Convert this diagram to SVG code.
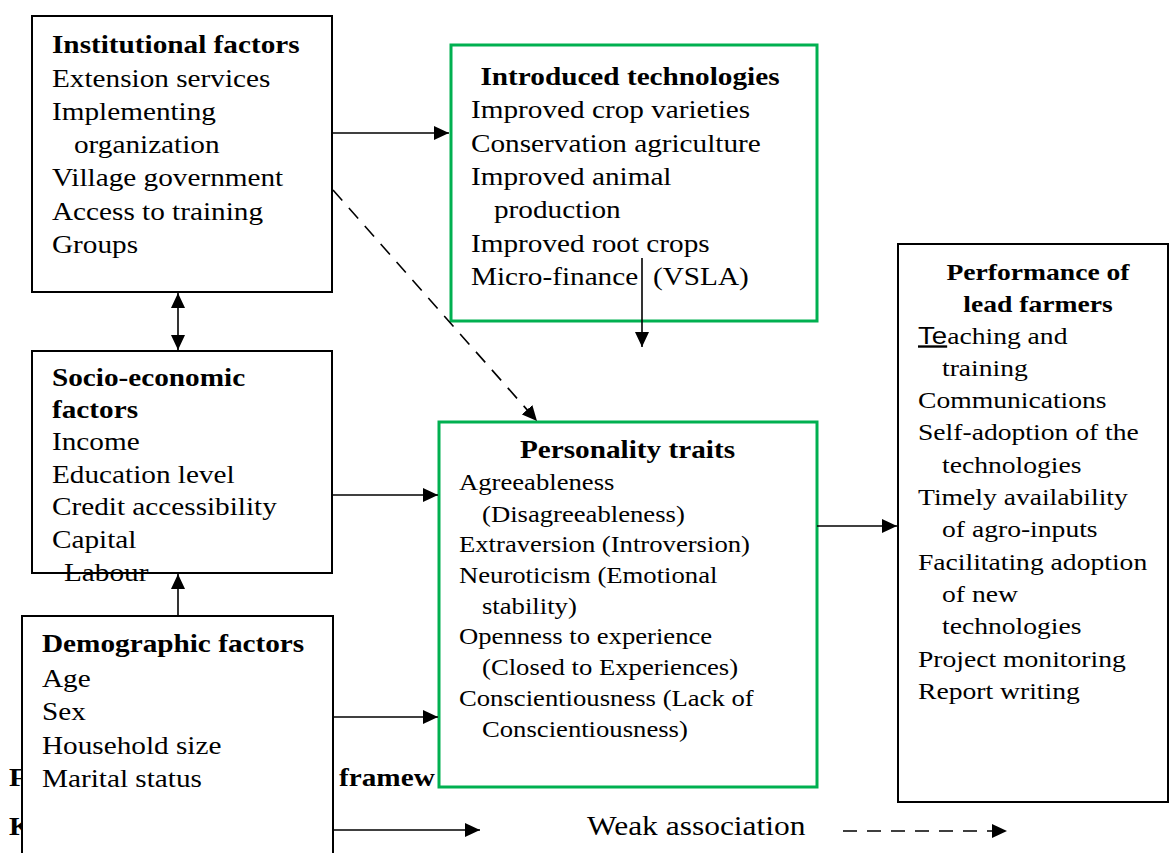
<svg xmlns="http://www.w3.org/2000/svg" width="1170" height="853" viewBox="0 0 1170 853">
<style>
text { font-family: "Liberation Serif", "Times New Roman", serif; fill: #000; }
.f25 { font-size: 25px; }
.f23 { font-size: 23.6px; }
.f22 { font-size: 22.8px; }
.f26 { font-size: 26.9px; }
.b { font-weight: bold; }
.m { text-anchor: middle; }
.box { fill: #fff; stroke: #000; stroke-width: 2; }
.gbox { fill: #fff; stroke: #00b050; stroke-width: 3; }
.conn { stroke: #000; stroke-width: 1.6; fill: none; }
.dash { stroke-dasharray: 14 10; }
.sans { font-family: "Liberation Sans", Arial, sans-serif; text-decoration: underline; }
</style>
<defs>
<marker id="arr" viewBox="0 0 15 14" refX="15" refY="7" markerWidth="15" markerHeight="14" markerUnits="userSpaceOnUse" orient="auto-start-reverse">
<path d="M0,0 L15,7 L0,14 Z" fill="#000"/>
</marker>
</defs>

<g id="caption-fragments">
<text class="f25 b" transform="translate(9 786) scale(1.17 1)">F</text>
<text class="f25 b" transform="translate(339 786) scale(1.17 1)">framew</text>
<text class="f25 b" transform="translate(9 835) scale(1.17 1)">K</text>
</g>

<g id="institutional">
<rect class="box" x="32" y="16" width="300" height="276"/>
<text class="f25 b" transform="translate(52 53) scale(1.17 1)">Institutional factors</text>
<text class="f25" transform="translate(52 86.5) scale(1.17 1)">Extension services</text>
<text class="f25" transform="translate(52 119.5) scale(1.17 1)">Implementing</text>
<text class="f25" transform="translate(74 153) scale(1.17 1)">organization</text>
<text class="f25" transform="translate(52 186) scale(1.17 1)">Village government</text>
<text class="f25" transform="translate(52 219.5) scale(1.17 1)">Access to training</text>
<text class="f25" transform="translate(52 253) scale(1.17 1)">Groups</text>
</g>

<g id="introduced">
<rect class="gbox" x="451" y="45" width="366" height="276"/>
<text class="f25 b m" transform="translate(630 85) scale(1.17 1)">Introduced technologies</text>
<text class="f25" transform="translate(471 118) scale(1.17 1)">Improved crop varieties</text>
<text class="f25" transform="translate(471 151.5) scale(1.17 1)">Conservation agriculture</text>
<text class="f25" transform="translate(471 185) scale(1.17 1)">Improved animal</text>
<text class="f25" transform="translate(494 218) scale(1.17 1)">production</text>
<text class="f25" transform="translate(471 251.5) scale(1.17 1)">Improved root crops</text>
<text class="f25" transform="translate(471 285) scale(1.17 1)">Micro-finance</text>
<text class="f25" transform="translate(653 285) scale(1.17 1)">(VSLA)</text>
</g>

<g id="socio">
<rect class="box" x="32" y="351" width="300" height="222"/>
<text class="f25 b" transform="translate(52 386) scale(1.17 1)">Socio-economic</text>
<text class="f25 b" transform="translate(52 418) scale(1.17 1)">factors</text>
<text class="f25" transform="translate(52 449.5) scale(1.17 1)">Income</text>
<text class="f25" transform="translate(52 482.5) scale(1.17 1)">Education level</text>
<text class="f25" transform="translate(52 515) scale(1.17 1)">Credit accessibility</text>
<text class="f25" transform="translate(52 548) scale(1.17 1)">Capital</text>
<text class="f25" transform="translate(64 580.5) scale(1.17 1)">Labour</text>
</g>

<g id="personality">
<rect class="gbox" x="439" y="422" width="378" height="365"/>
<text class="f25 b m" transform="translate(627.5 458) scale(1.17 1)">Personality traits</text>
<text class="f22" transform="translate(459 490) scale(1.17 1)">Agreeableness</text>
<text class="f22" transform="translate(482 521.5) scale(1.17 1)">(Disagreeableness)</text>
<text class="f22" transform="translate(459 552) scale(1.17 1)">Extraversion (Introversion)</text>
<text class="f22" transform="translate(459 582.5) scale(1.17 1)">Neuroticism (Emotional</text>
<text class="f22" transform="translate(482 613.5) scale(1.17 1)">stability)</text>
<text class="f22" transform="translate(459 644) scale(1.17 1)">Openness to experience</text>
<text class="f22" transform="translate(482 675) scale(1.17 1)">(Closed to Experiences)</text>
<text class="f22" transform="translate(459 705.5) scale(1.17 1)">Conscientiousness (Lack of</text>
<text class="f22" transform="translate(482 736.5) scale(1.17 1)">Conscientiousness)</text>
</g>

<g id="performance">
<rect class="box" x="898" y="244" width="270" height="558"/>
<text class="f23 b m" transform="translate(1038 279.5) scale(1.17 1)">Performance of</text>
<text class="f23 b m" transform="translate(1038 311.5) scale(1.17 1)">lead farmers</text>
<text class="f23" transform="translate(918 343.5) scale(1.17 1)"><tspan class="sans">Te</tspan>aching and</text>
<text class="f23" transform="translate(942 375.5) scale(1.17 1)">training</text>
<text class="f23" transform="translate(918 408) scale(1.17 1)">Communications</text>
<text class="f23" transform="translate(918 440) scale(1.17 1)">Self-adoption of the</text>
<text class="f23" transform="translate(942 472.5) scale(1.17 1)">technologies</text>
<text class="f23" transform="translate(918 505) scale(1.17 1)">Timely availability</text>
<text class="f23" transform="translate(942 537) scale(1.17 1)">of agro-inputs</text>
<text class="f23" transform="translate(918 569.5) scale(1.17 1)">Facilitating adoption</text>
<text class="f23" transform="translate(942 602) scale(1.17 1)">of new</text>
<text class="f23" transform="translate(942 634) scale(1.17 1)">technologies</text>
<text class="f23" transform="translate(918 666.5) scale(1.17 1)">Project monitoring</text>
<text class="f23" transform="translate(918 699) scale(1.17 1)">Report writing</text>
</g>

<g id="demographic">
<rect class="box" x="22" y="616" width="311" height="250"/>
<text class="f25 b" transform="translate(42 652) scale(1.17 1)">Demographic factors</text>
<text class="f25" transform="translate(42 687) scale(1.17 1)">Age</text>
<text class="f25" transform="translate(42 720) scale(1.17 1)">Sex</text>
<text class="f25" transform="translate(42 754) scale(1.17 1)">Household size</text>
<text class="f25" transform="translate(42 787) scale(1.17 1)">Marital status</text>
</g>

<g id="connectors">
<line class="conn" x1="333" y1="133" x2="449" y2="133" marker-end="url(#arr)"/>
<line class="conn dash" x1="333" y1="190" x2="537" y2="421" marker-end="url(#arr)"/>
<line class="conn" x1="178" y1="293" x2="178" y2="350" marker-start="url(#arr)" marker-end="url(#arr)"/>
<line class="conn" x1="642" y1="258" x2="642" y2="347" marker-end="url(#arr)"/>
<line class="conn" x1="333" y1="495" x2="438" y2="495" marker-end="url(#arr)"/>
<line class="conn" x1="178" y1="616" x2="178" y2="574" marker-end="url(#arr)"/>
<line class="conn" x1="333" y1="717" x2="438" y2="717" marker-end="url(#arr)"/>
<line class="conn" x1="817" y1="526" x2="897" y2="526" marker-end="url(#arr)"/>
</g>

<g id="key">
<line class="conn" x1="333" y1="830" x2="480" y2="830" marker-end="url(#arr)"/>
<text class="f26" transform="translate(587 835) scale(1.17 1)">Weak association</text>
<line class="conn dash" x1="843" y1="831" x2="1007" y2="831" marker-end="url(#arr)"/>
</g>
</svg>
